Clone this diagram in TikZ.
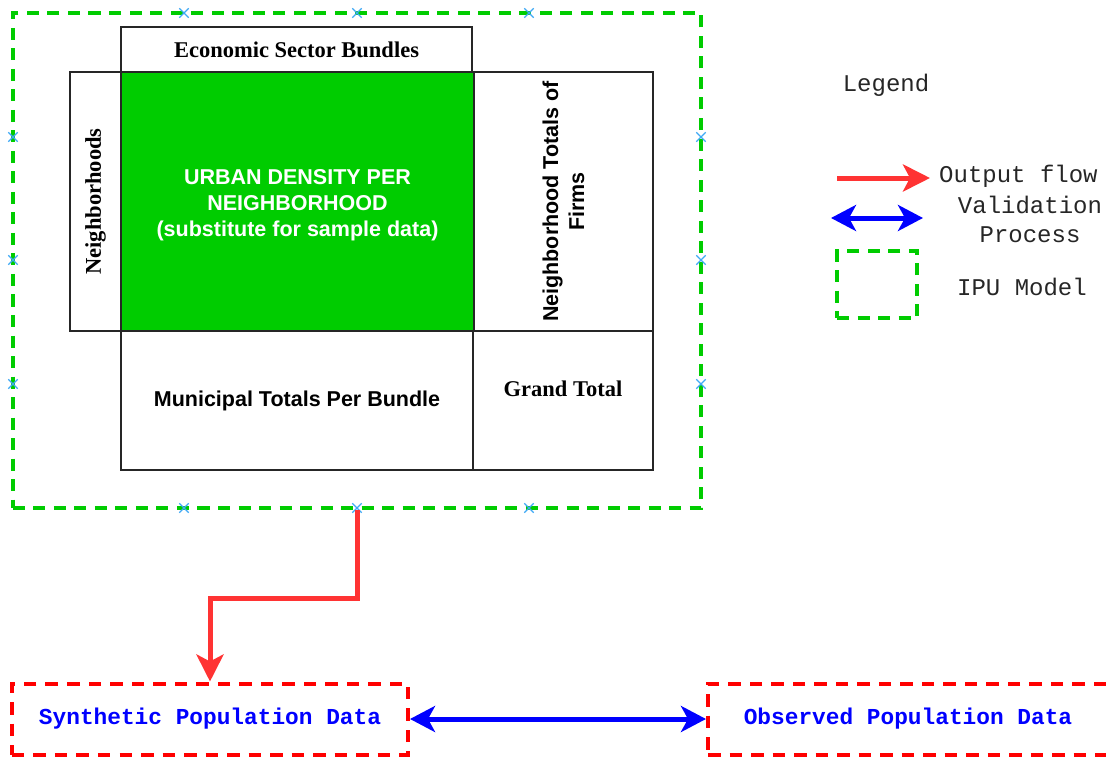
\documentclass[tikz,border=0pt]{standalone}
\usepackage{fontspec}
\setmainfont{Liberation Serif}
\newfontfamily\arialfont{Liberation Sans}
\newfontfamily\courfont{Liberation Mono}
\usetikzlibrary{arrows.meta,shapes.misc}

\definecolor{ipugreen}{HTML}{00CC00}
\definecolor{flowred}{HTML}{FF3333}
\definecolor{boxred}{HTML}{FF0000}
\definecolor{valblue}{HTML}{0000FF}
\definecolor{pinblue}{HTML}{3FA9F5}

\tikzset{
  cell/.style={draw=black!85, line width=1.6bp, inner sep=0pt, align=center},
  serifb/.style={font=\fontsize{22.5bp}{26bp}\selectfont\bfseries},
  sansb/.style={font=\fontsize{21.5bp}{26bp}\selectfont\arialfont\bfseries},
  ipubox/.style={draw=ipugreen, line width=4bp, dash pattern=on 12bp off 8.5bp, inner sep=0pt},
  databox/.style={draw=boxred, line width=4bp, dash pattern=on 12.5bp off 9bp, inner sep=0pt,
    font=\fontsize{22.8bp}{26bp}\selectfont\courfont\bfseries, text=valblue},
  legendtext/.style={font=\fontsize{24bp}{29bp}\selectfont\courfont, align=center, inner sep=0pt, text=black!85},
  flow/.style={draw=flowred, line width=5bp, -{Stealth[length=27bp, width=27bp, inset=7bp]}},
  valid/.style={draw=valblue, line width=5bp,
    {Stealth[length=25bp, width=26bp, inset=7bp]}-{Stealth[length=25bp, width=26bp, inset=7bp]}},
  pin/.style={cross out, draw=pinblue, line width=1.3bp, minimum size=8bp, inner sep=0pt}
}

\begin{document}
\begin{tikzpicture}[x=1bp, y=-1bp]
\useasboundingbox (0,0) rectangle (1106,757);

% IPU model frame
\node[ipubox, minimum width=688bp, minimum height=495bp] (ipu) at (357,260.5) {};

% table cells
\node[cell, serifb, minimum width=351bp, minimum height=45bp] (esb) at (296.5,49.5) {Economic Sector Bundles};
\node[cell, serifb, rotate=90, minimum width=259bp, minimum height=51bp] (nbh) at (95.5,201.5) {Neighborhoods};
\node[cell, fill=ipugreen, minimum width=353bp, minimum height=259bp,
  label={[sansb, text=white, align=center, yshift=-4bp, name=urbantext]center:URBAN DENSITY PER\\NEIGHBORHOOD\\(substitute for sample data)}]
  (urban) at (297.5,201.5) {};
\node[cell, sansb, rotate=90, minimum width=259bp, minimum height=179bp] (ntot) at (563.5,201.5)
  {Neighborhood Totals of\\Firms};
\node[cell, sansb, minimum width=352bp, minimum height=139bp] (mun) at (297,400.5) {Municipal Totals Per Bundle};
\node[cell, minimum width=180bp, minimum height=139bp,
  label={[serifb, yshift=12bp, name=gtl]center:Grand Total}] (grand) at (563,400.5) {};

% connection points on the frame
\foreach \px in {184,357,529}{
  \node[pin] (pt\px) at (\px,13) {};
  \node[pin] (pb\px) at (\px,508) {};
}
\foreach \py in {137,260,384}{
  \node[pin] (pl\py) at (13,\py) {};
  \node[pin] (pr\py) at (701,\py) {};
}

% data boxes
\node[databox, minimum width=396bp, minimum height=71bp] (synth) at (210,719) {Synthetic Population Data};
\node[databox, minimum width=400bp, minimum height=71bp] (obs) at (908,719) {Observed Population Data};

% flows
\draw[flow] (ipu.south) -- ++(0,88) -| (synth.north);
\draw[valid] (synth.east) -- (obs.west);

% legend
\node[legendtext] (leg) at (886,85) {Legend};
\coordinate (lf1) at (837,178);
\coordinate (lf2) at (930,178);
\draw[flow] (lf1) -- (lf2);
\node[legendtext, anchor=west] (lflow) at (939,176) {Output flow};
\coordinate (lv1) at (831,218);
\coordinate (lv2) at (923,218);
\draw[valid] (lv1) -- (lv2);
\node[legendtext] (lval) at (1030,219) {Validation\\Process};
\node[ipubox, minimum width=80bp, minimum height=67bp] (lbox) at (877,284.5) {};
\node[legendtext] (lipu) at (1022,287) {IPU Model};
\end{tikzpicture}
\end{document}
